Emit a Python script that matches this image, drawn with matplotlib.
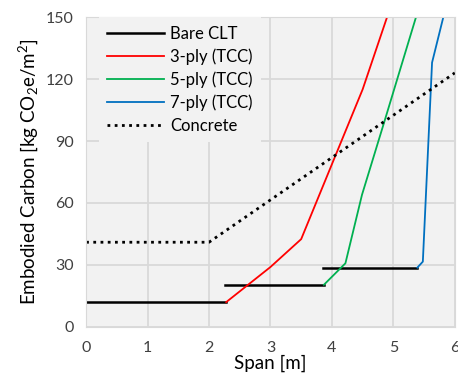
import matplotlib.pyplot as plt

# data
bare_x = [[0, 2.28], [2.26, 3.87], [3.85, 5.39]]
bare_y = [[12, 12], [20.4, 20.4], [28.7, 28.7]]

ply3_x = [2.28, 3.0, 3.5, 4.5, 5.0]
ply3_y = [12, 29, 42.5, 115, 159]

ply5_x = [3.87, 4.22, 4.49, 4.86, 5.45]
ply5_y = [20.4, 30.8, 64, 100, 158]

ply7_x = [5.39, 5.48, 5.63, 5.88]
ply7_y = [28.7, 31.6, 128, 158]

conc_x = [0, 2, 6]
conc_y = [41, 41, 123]

plt.rcParams['font.family'] = ['Lato', 'DejaVu Sans']
plt.rcParams['mathtext.default'] = 'regular'

fig = plt.figure(figsize=(4.58, 3.81), dpi=100)
ax = fig.add_axes([0.188, 0.142, 0.805, 0.813])
ax.set_facecolor('#f2f2f2')

for i in range(len(bare_x)):
    ax.plot(bare_x[i], bare_y[i], color='black', lw=1.8,
            label='Bare CLT' if i == 0 else None)
ax.plot(ply3_x, ply3_y, color='#ff0000', lw=1.3, label='3-ply (TCC)')
ax.plot(ply5_x, ply5_y, color='#00b050', lw=1.3, label='5-ply (TCC)')
ax.plot(ply7_x, ply7_y, color='#0070c0', lw=1.3, label='7-ply (TCC)')
ax.plot(conc_x, conc_y, color='black', lw=2, ls=(0, (1, 1.6)), label='Concrete')

ax.set_xlim(0, 6)
ax.set_ylim(0, 150)
ax.set_xticks(range(0, 7))
ax.set_yticks(range(0, 151, 30))
ax.grid(color='#d9d9d9', lw=1.3)
ax.set_axisbelow(True)
for s in ax.spines.values():
    s.set_color('#d9d9d9')
ax.tick_params(length=0, labelsize=11.5, colors='#404040', pad=9)
ax.tick_params(axis='x', pad=10)

ax.set_xlabel('Span [m]', fontsize=13.5, labelpad=0)
ax.set_ylabel('Embodied Carbon [kg CO$_2$e/m$^2$]', fontsize=13.5, labelpad=4)

leg = ax.legend(loc='upper left', bbox_to_anchor=(0.027, 1.008), frameon=True,
                facecolor='#f2f2f2', edgecolor='none', framealpha=1,
                fancybox=False, fontsize=12, handlelength=3.4,
                labelspacing=0.4, borderaxespad=0.15, borderpad=0.5,
                handletextpad=0.4)

fig.savefig('out.png')
